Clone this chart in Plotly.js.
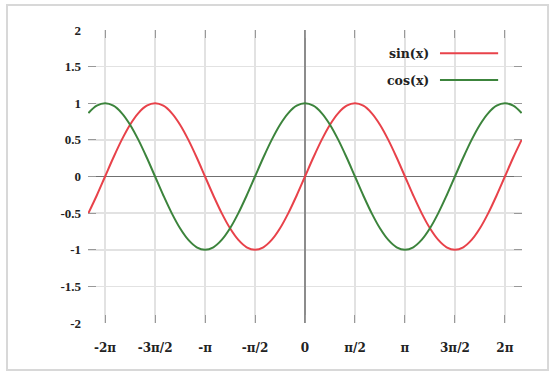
<!DOCTYPE html>
<html>
<head>
<meta charset="utf-8">
<script src="https://cdn.plot.ly/plotly-3.0.1.min.js"></script>
<style>html,body{margin:0;padding:0;background:#fff;}#chart{width:555px;height:378px;}</style>
</head>
<body>
<div id="chart"></div>
<script>
// x values: steps of pi/12 from -2pi-pi/6 to 2pi+pi/6
const xValues = [-6.807,-6.545,-6.283,-6.021,-5.760,-5.498,-5.236,-4.974,-4.712,-4.451,-4.189,-3.927,-3.665,-3.403,-3.142,-2.880,-2.618,-2.356,-2.094,-1.833,-1.571,-1.309,-1.047,-0.785,-0.524,-0.262,0,0.262,0.524,0.785,1.047,1.309,1.571,1.833,2.094,2.356,2.618,2.880,3.142,3.403,3.665,3.927,4.189,4.451,4.712,4.974,5.236,5.498,5.760,6.021,6.283,6.545,6.807];
const sinValues = [-0.5,-0.259,0,0.259,0.5,0.707,0.866,0.966,1,0.966,0.866,0.707,0.5,0.259,0,-0.259,-0.5,-0.707,-0.866,-0.966,-1,-0.966,-0.866,-0.707,-0.5,-0.259,0,0.259,0.5,0.707,0.866,0.966,1,0.966,0.866,0.707,0.5,0.259,0,-0.259,-0.5,-0.707,-0.866,-0.966,-1,-0.966,-0.866,-0.707,-0.5,-0.259,0,0.259,0.5];
const cosValues = [0.866,0.966,1,0.966,0.866,0.707,0.5,0.259,0,-0.259,-0.5,-0.707,-0.866,-0.966,-1,-0.966,-0.866,-0.707,-0.5,-0.259,0,0.259,0.5,0.707,0.866,0.966,1,0.966,0.866,0.707,0.5,0.259,0,-0.259,-0.5,-0.707,-0.866,-0.966,-1,-0.966,-0.866,-0.707,-0.5,-0.259,0,0.259,0.5,0.707,0.866,0.966,1,0.966,0.866];
const xTickVals = [-6.283,-4.712,-3.142,-1.571,0,1.571,3.142,4.712,6.283];
const xTickText = ["-2π","-3π/2","-π","-π/2","0","π/2","π","3π/2","2π"];
const yTickVals = [-2,-1.5,-1,-0.5,0,0.5,1,1.5,2];
const yTickText = ["-2","-1.5","-1","-0.5","0","0.5","1","1.5","2"];
const seriesNames = ["sin(x)","cos(x)"];
const seriesColors = ["#e8424a","#3c843c"];

const yFont = {family:"Liberation Serif, serif", size:13, color:"#222", weight:"bold"};
const xFont = {family:"DejaVu Serif, serif", size:12, color:"#222", weight:"bold"};
const legFont = {family:"DejaVu Serif, serif", size:12.5, color:"#222", weight:"bold"};

const traces = [
  {x:xValues, y:sinValues, name:seriesNames[0], mode:"lines", line:{color:seriesColors[0], width:2, shape:"spline"}},
  {x:xValues, y:cosValues, name:seriesNames[1], mode:"lines", line:{color:seriesColors[1], width:2, shape:"spline"}}
];

const layout = {
  width:555, height:378,
  margin:{l:88, r:33, t:30, b:55},
  paper_bgcolor:"#fff", plot_bgcolor:"#fff",
  showlegend:false,
  xaxis:{range:[-6.82,6.82], tickvals:xTickVals, ticktext:xTickText, tickfont:xFont,
    showgrid:true, gridcolor:"#e2e2e2", gridwidth:1.5,
    zeroline:true, zerolinecolor:"#8c8c8c", zerolinewidth:1.5,
    ticks:"inside", ticklen:8, tickcolor:"#999", mirror:"ticks", ticklabelstandoff:16, fixedrange:true},
  yaxis:{range:[-2,2], tickvals:yTickVals, ticktext:yTickText, tickfont:yFont,
    showgrid:true, gridcolor:"#e2e2e2", gridwidth:1.5,
    zeroline:true, zerolinecolor:"#707070", zerolinewidth:1,
    ticks:"inside", ticklen:8, tickcolor:"#999", mirror:"ticks", ticklabelstandoff:6, fixedrange:true},
  shapes:[
    {type:"rect", xref:"paper", yref:"paper", x0:-0.1866, x1:1.06, y0:-0.1604, y1:1.0853, line:{color:"#d8d8d8", width:2}, layer:"below"},
    {type:"line", xref:"paper", yref:"paper", x0:0.811, x1:0.945, y0:0.921, y1:0.921, line:{color:seriesColors[0], width:2}},
    {type:"line", xref:"paper", yref:"paper", x0:0.811, x1:0.945, y0:0.829, y1:0.829, line:{color:seriesColors[1], width:2}}
  ],
  annotations:[
    {xref:"paper", yref:"paper", x:0.79, y:0.921, xanchor:"right", yanchor:"middle", text:seriesNames[0], showarrow:false, font:legFont},
    {xref:"paper", yref:"paper", x:0.79, y:0.829, xanchor:"right", yanchor:"middle", text:seriesNames[1], showarrow:false, font:legFont}
  ]
};

Plotly.newPlot("chart", traces, layout, {displayModeBar:false, staticPlot:true});
</script>
</body>
</html>
